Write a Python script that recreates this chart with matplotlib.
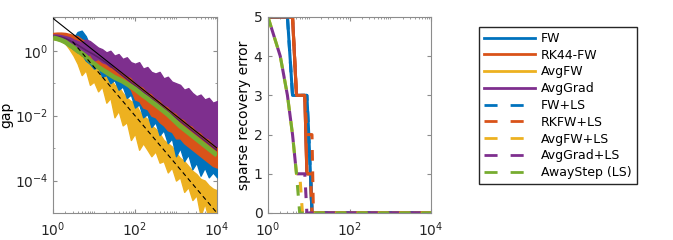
import numpy as np
import matplotlib
matplotlib.use("Agg")
import matplotlib.pyplot as plt
from matplotlib.lines import Line2D
from matplotlib.ticker import LogLocator, NullFormatter, FixedLocator

# MATLAB default colour order
C_BLUE, C_ORANGE, C_YELLOW = "#0072BD", "#D95319", "#EDB120"
C_PURPLE, C_GREEN = "#7E2F8E", "#77AC30"

# --- left panel: duality gap, log10 of the band edges ---
t_grid = [1, 1.26, 1.58, 2, 2.51, 3.16, 3.98, 5.01, 6.31, 7.94,
          10, 12.6, 15.8, 20, 25.1, 31.6, 39.8, 50.1, 63.1, 79.4,
          100, 126, 158, 200, 251, 316, 398, 501, 631, 794,
          1000, 1259, 1585, 1995, 2512, 3162, 3981, 5012, 6310, 7943, 10000]

yellow_hi = [0.42, 0.44, 0.42, 0.38, 0.30, 0.22, 0.10, 0.05, -0.10, -0.25,
             -0.30, -0.55, -0.60, -0.80, -0.85, -1.05, -1.10, -1.30, -1.45, -1.55,
             -1.60, -1.85, -2.00, -2.10, -2.30, -2.40, -2.55, -2.75, -2.85, -2.95,
             -3.15, -3.30, -3.40, -3.55, -3.70, -3.80, -3.95, -4.00, -4.15, -4.25, -4.30]
yellow_lo = [0.36, 0.34, 0.30, 0.22, 0.05, -0.15, -0.40, -0.75, -0.60, -1.05,
             -0.95, -1.25, -1.10, -1.60, -1.45, -2.05, -1.85, -2.30, -2.20, -2.75,
             -2.55, -3.05, -2.85, -3.05, -3.25, -3.10, -3.45, -3.40, -3.75, -3.60,
             -4.00, -3.90, -4.35, -4.20, -4.60, -4.45, -5.10, -4.70, -5.20, -5.20, -5.20]
blue_hi = [0.50, 0.52, 0.50, 0.48, 0.45, 0.40, 0.58, 0.62, 0.45, 0.15,
           0.05, -0.15, -0.30, -0.40, -0.50, -0.60, -0.70, -0.80, -0.85, -0.95,
           -1.05, -1.15, -1.25, -1.35, -1.45, -1.55, -1.65, -1.75, -1.85, -1.95,
           -2.10, -2.20, -2.30, -2.40, -2.50, -2.60, -2.70, -2.80, -2.90, -3.00, -3.05]
blue_lo = [0.44, 0.42, 0.36, 0.28, 0.15, 0.05, 0.00, -0.10, -0.30, -0.40,
           -0.55, -0.50, -0.80, -0.75, -1.00, -0.90, -1.20, -1.10, -1.45, -1.35,
           -1.75, -1.65, -2.05, -1.95, -2.35, -2.20, -2.60, -2.45, -2.85, -2.70,
           -3.25, -3.00, -3.40, -3.20, -3.65, -3.45, -3.85, -3.60, -3.90, -3.75, -3.90]
orange_hi = [0.55, 0.56, 0.56, 0.55, 0.52, 0.48, 0.45, 0.35, 0.30, 0.20,
             0.12, 0.05, 0.00, -0.05, -0.15, -0.15, -0.45, -0.55, -0.55, -0.60,
             -0.75, -0.70, -0.90, -1.10, -1.25, -1.30, -1.45, -1.50, -1.65, -1.70,
             -1.85, -1.90, -2.05, -2.10, -2.25, -2.30, -2.45, -2.50, -2.65, -2.70, -2.80]
orange_lo = [0.45, 0.45, 0.40, 0.32, 0.20, 0.10, 0.00, -0.15, -0.20, -0.35,
             -0.45, -0.40, -0.60, -0.55, -0.65, -0.75, -0.85, -0.95, -1.05, -1.20,
             -1.50, -1.55, -1.75, -1.80, -2.00, -2.05, -2.20, -2.30, -2.45, -2.50,
             -2.70, -2.70, -2.85, -2.95, -3.05, -3.15, -3.25, -3.35, -3.45, -3.55, -3.60]
purple_hi = [0.50, 0.50, 0.48, 0.45, 0.42, 0.35, 0.30, 0.25, 0.35, 0.30,
             0.20, 0.10, 0.05, -0.05, 0.00, -0.15, -0.10, -0.25, -0.20, -0.35,
             -0.40, -0.35, -0.55, -0.50, -0.65, -0.70, -0.65, -0.85, -0.80, -0.95,
             -1.00, -1.05, -1.20, -1.15, -1.30, -1.40, -1.35, -1.50, -1.45, -1.60, -1.55]
purple_lo = [0.45, 0.42, 0.38, 0.30, 0.20, 0.05, -0.05, -0.05, -0.15, -0.10,
             -0.30, -0.25, -0.35, -0.40, -0.50, -0.45, -0.60, -0.65, -0.75, -0.80,
             -0.95, -1.05, -1.10, -1.25, -1.30, -1.45, -1.50, -1.65, -1.70, -1.85,
             -1.90, -2.05, -2.10, -2.25, -2.30, -2.45, -2.50, -2.65, -2.70, -2.85, -2.95]
green_mid = [0.40, 0.37, 0.33, 0.27, 0.18, 0.10, 0.00, -0.08, -0.18, -0.30,
             -0.40, -0.50, -0.58, -0.66, -0.74, -0.82, -0.88, -0.94, -1.02, -1.10,
             -1.18, -1.28, -1.38, -1.47, -1.57, -1.66, -1.76, -1.86, -1.96, -2.08,
             -2.20, -2.32, -2.42, -2.52, -2.62, -2.72, -2.82, -2.92, -3.02, -3.12, -3.22]
avggrad_ls_mid = [0.45, 0.44, 0.42, 0.38, 0.32, 0.25, 0.18, 0.10, 0.02, -0.05,
                  -0.12, -0.20, -0.28, -0.37, -0.47, -0.57, -0.67, -0.77, -0.87, -0.97,
                  -1.07, -1.17, -1.27, -1.37, -1.47, -1.57, -1.67, -1.77, -1.87, -1.97,
                  -2.07, -2.17, -2.27, -2.37, -2.47, -2.57, -2.67, -2.77, -2.87, -2.97, -3.07]

# rate guides
ref1_t, ref1_y = [1, 1e4], [10, 1e-3]      # ~ 1/t
ref2_t, ref2_y = [3, 1e4], [1.92, 1e-5]    # ~ 1/t^1.5

# --- right panel: sparse recovery error per iteration ---
fw_t, fw_e = [1, 2, 3, 4, 5, 6, 7, 8, 9, 10, 11, 12, 1e4], [5, 5, 5, 3, 3, 3, 3, 3, 3, 2, 1, 0, 0]
rk_t, rk_e = [1, 2, 3, 4, 5, 6, 7, 8, 9, 10, 11, 12, 1e4], [5, 5, 5, 5, 3, 3, 3, 3, 1, 1, 1, 0, 0]
avgfw_t, avgfw_e = rk_t, rk_e
avggrad_t, avggrad_e = rk_t, rk_e
fwls_t, fwls_e = [1, 2, 3, 4, 5, 6, 7, 8, 9, 10, 11, 12, 1e4], [5, 5, 5, 3, 3, 3, 3, 3, 3, 2, 1, 0, 0]
rkls_t, rkls_e = [1, 2, 3, 4, 5, 6, 7, 8, 9, 10, 11, 12, 13, 1e4], [5, 5, 5, 5, 3, 3, 3, 3, 2, 2, 2, 2, 0, 0]
avgfwls_t, avgfwls_e = [1, 2, 3, 4, 5, 6, 7, 1e4], [5, 4, 3, 2, 1, 1, 0, 0]
avggradls_t, avggradls_e = [1, 2, 3, 4, 5, 6, 7, 8, 9, 1e4], [5, 4, 3, 2, 1, 1, 1, 1, 0, 0]
away_t, away_e = [1, 2, 3, 4, 5, 6, 1e4], [5, 4, 3, 2, 1, 0, 0]

labels = ["FW", "RK44-FW", "AvgFW", "AvgGrad", "FW+LS", "RKFW+LS", "AvgFW+LS", "AvgGrad+LS", "AwayStep (LS)"]
colors = [C_BLUE, C_ORANGE, C_YELLOW, C_PURPLE, C_BLUE, C_ORANGE, C_YELLOW, C_PURPLE, C_GREEN]
styles = ["-"] * 4 + ["--"] * 5

plt.rcParams["font.family"] = "DejaVu Sans"
fig = plt.figure(figsize=(6.73, 2.40), dpi=100)
ax1 = fig.add_axes([53 / 673, 27 / 240, 164 / 673, 196 / 240])
ax2 = fig.add_axes([268 / 673, 27 / 240, 163 / 673, 196 / 240])

t = np.array(t_grid)
p = lambda a: 10.0 ** np.array(a)
# LS variants of FW / RK / AvgFW sit inside their bands
ax1.plot(t, np.sqrt(p(blue_lo) * p(blue_hi)), color=C_BLUE, lw=1.5, ls="--", zorder=1)
ax1.plot(t, np.sqrt(p(orange_lo) * p(orange_hi)), color=C_ORANGE, lw=1.5, ls="--", zorder=1)
ax1.plot(t, np.sqrt(p(yellow_lo) * p(yellow_hi)), color=C_YELLOW, lw=1.5, ls="--", zorder=1)
ax1.fill_between(t, p(yellow_lo), p(yellow_hi), color=C_YELLOW, lw=1.0, ec=C_YELLOW, zorder=2)
ax1.fill_between(t, p(blue_lo), p(blue_hi), color=C_BLUE, lw=1.0, ec=C_BLUE, zorder=3)
ax1.fill_between(t, p(orange_lo), p(orange_hi), color=C_ORANGE, lw=1.0, ec=C_ORANGE, zorder=4)
ax1.fill_between(t, p(purple_lo), p(purple_hi), color=C_PURPLE, lw=1.0, ec=C_PURPLE, zorder=5)
ax1.plot(t, p(avggrad_ls_mid), color="#5a1f66", lw=1.2, zorder=6)
ax1.plot(t, p(green_mid), color=C_GREEN, lw=3.5, solid_capstyle="butt", zorder=7)
ax1.plot(ref1_t, ref1_y, color="k", lw=0.8, zorder=8)
ax1.plot(ref2_t, ref2_y, color="k", lw=0.8, ls=(0, (4, 3)), zorder=8)
ax1.set_xscale("log"); ax1.set_yscale("log")
ax1.set_xlim(1, 1e4); ax1.set_ylim(1e-5, 11)
ax1.yaxis.set_major_locator(FixedLocator([1e-4, 1e-2, 1]))
ax1.set_ylabel("gap", fontsize=10, labelpad=1)

lw = 2.2
dash = (0, (3.5, 3.5))
ax2.plot(avgfw_t, avgfw_e, color=C_YELLOW, lw=lw)
ax2.plot(avggrad_t, avggrad_e, color=C_PURPLE, lw=lw)
ax2.plot(fw_t, fw_e, color=C_BLUE, lw=lw)
ax2.plot(rk_t, rk_e, color=C_ORANGE, lw=lw)
ax2.plot(fwls_t, fwls_e, color=C_BLUE, lw=lw, ls=dash)
ax2.plot(rkls_t, rkls_e, color=C_ORANGE, lw=lw, ls=dash)
ax2.plot(avgfwls_t, avgfwls_e, color=C_YELLOW, lw=lw, ls=dash)
ax2.plot(avggradls_t, avggradls_e, color=C_PURPLE, lw=lw, ls=(3.5, (3.5, 3.5)))
ax2.plot(away_t, away_e, color=C_GREEN, lw=lw, ls=dash)
ax2.set_xscale("log")
ax2.set_xlim(1, 1e4); ax2.set_ylim(0, 5)
ax2.set_yticks([0, 1, 2, 3, 4, 5])
ax2.set_ylabel("sparse recovery error", fontsize=10, labelpad=2)
ax2.tick_params(axis="y", pad=4)

for ax in (ax1, ax2):
    ax.xaxis.set_major_locator(FixedLocator([1, 1e2, 1e4]))
    ax.xaxis.set_minor_locator(LogLocator(base=10, subs=np.arange(1, 10) * 1.0, numticks=20))
    ax.xaxis.set_minor_formatter(NullFormatter())
    for s in ax.spines.values():
        s.set_color("#8c8c8c"); s.set_linewidth(0.8)
    ax.tick_params(which="both", direction="in", top=True, right=True, colors="#8c8c8c",
                   labelcolor="#262626", labelsize=10)
    ax.tick_params(which="major", length=3)
    ax.tick_params(which="minor", length=1.5)
    ax.tick_params(axis="x", pad=5)
ax1.yaxis.set_minor_locator(LogLocator(base=10, subs=(1.0,), numticks=20))
ax1.yaxis.set_minor_formatter(NullFormatter())

handles = [Line2D([], [], color=c, lw=2, ls="-" if s == "-" else (0, (4.7, 4.7)))
           for c, s in zip(colors, styles)]
fig.legend(handles, labels, loc="upper left", bbox_to_anchor=(479 / 673, 1 - 27 / 240),
           fontsize=9, frameon=True, fancybox=False, edgecolor="#262626", framealpha=1,
           handlelength=4.1, handletextpad=0.45, labelspacing=0.3, borderpad=0.4,
           borderaxespad=0)

fig.savefig("out.png", dpi=100)
